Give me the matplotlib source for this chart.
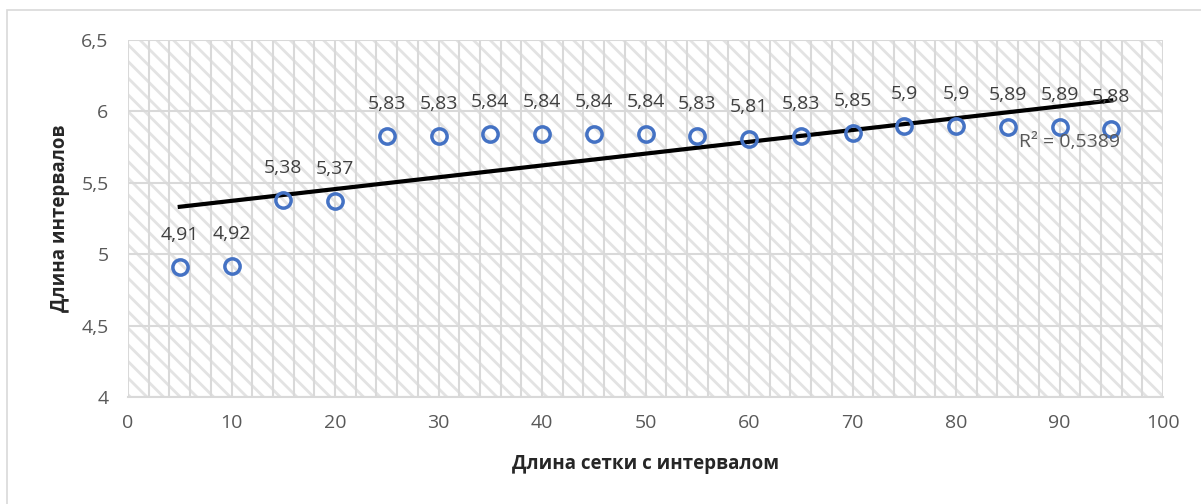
import numpy as np
import matplotlib.pyplot as plt
from matplotlib.patches import Rectangle
from matplotlib.ticker import MultipleLocator, FuncFormatter

plt.rcParams['font.family'] = ['Open Sans', 'DejaVu Sans']
plt.rcParams['hatch.color'] = '#e3e3e3'
plt.rcParams['hatch.linewidth'] = 2.0

# длина сетки и средняя длина интервалов
grid_len = [5, 10, 15, 20, 25, 30, 35, 40, 45, 50, 55, 60, 65, 70, 75, 80, 85, 90, 95]
interval_len = [4.91, 4.92, 5.38, 5.37, 5.83, 5.83, 5.84, 5.84, 5.84, 5.84,
                5.83, 5.81, 5.83, 5.85, 5.9, 5.9, 5.89, 5.89, 5.88]
r2_text = 'R² = 0,5389'

x = np.array(grid_len)
y = np.array(interval_len)

fig = plt.figure(figsize=(12.01, 5.04), dpi=100)
fig.patches.append(Rectangle((7 / 1201, -0.1), 1.2, 1 - 10 / 504 + 0.1,
                             transform=fig.transFigure, fill=False,
                             edgecolor='#d9d9d9', linewidth=1.2))

ax = fig.add_axes([128 / 1201, 1 - 397 / 504, (1163 - 128) / 1201, (397 - 40) / 504])
ax.patch.set_facecolor('white')
ax.patch.set_hatch('\\\\')
ax.patch.set_edgecolor('#e3e3e3')

ax.set_xlim(0, 100)
ax.set_ylim(4, 6.5)
ax.xaxis.set_major_locator(MultipleLocator(10))
ax.xaxis.set_minor_locator(MultipleLocator(2))
ax.yaxis.set_major_locator(MultipleLocator(0.5))
fmt = FuncFormatter(lambda v, p: f'{v:g}'.replace('.', ','))
ax.xaxis.set_major_formatter(fmt)
ax.yaxis.set_major_formatter(fmt)

ax.grid(which='major', color='#d9d9d9', linewidth=1.5)
ax.grid(which='minor', axis='x', color='#d9d9d9', linewidth=1.5)
ax.set_axisbelow(True)
for s in ax.spines.values():
    s.set_visible(False)
ax.spines['bottom'].set_visible(True)
ax.spines['bottom'].set_color('#d9d9d9')
ax.spines['bottom'].set_linewidth(1.5)

ax.tick_params(which='both', length=0, labelsize=14, labelcolor='#595959')
ax.tick_params(axis='x', pad=12)
ax.tick_params(axis='y', pad=14)

# линейный тренд
k, b = np.polyfit(x, y, 1)
xt = np.array([x.min(), x.max()])
ax.plot(xt, k * xt + b, color='black', linewidth=3, zorder=3)

ax.plot(x, y, linestyle='none', marker='o', markersize=11,
        markerfacecolor='none', markeredgecolor='#4472c4', markeredgewidth=2.5, zorder=4)

for xi, yi in zip(grid_len, interval_len):
    ax.annotate(f'{yi:g}'.replace('.', ','), (xi, yi), xytext=(0, 23),
                textcoords='offset points', ha='center', va='center',
                fontsize=14, color='#404040', zorder=5)

ax.text(91, 5.785, r2_text, ha='center', va='center', fontsize=14, color='#595959', zorder=5)

ax.set_xlabel('Длина сетки с интервалом', fontsize=13.5, fontweight='bold', color='#262626', labelpad=16)
ax.set_ylabel('Длина интервалов', fontsize=13.5, fontweight='bold', color='#262626', labelpad=8)

fig.savefig('out.png', dpi=100)
